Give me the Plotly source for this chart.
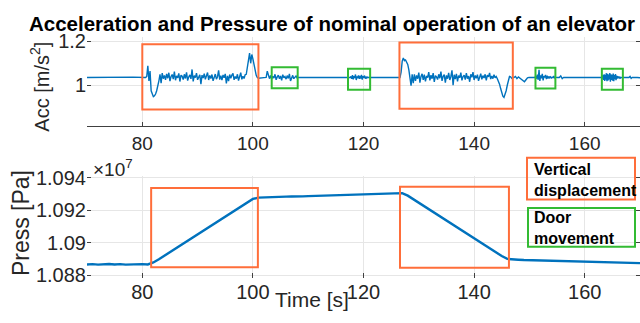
import numpy as np
import plotly.graph_objects as go

# ---------------- data ----------------
# Acceleration segments: (start time, end time, values)
acc_start = [1.035, 1.036, 1.034, 1.035, 1.037, 1.035]            # 70 .. 80.4
acc_vert1_a = [1.035, 1.040, 1.088, 1.020, 1.065, 0.975, 0.955, 0.948, 0.952, 0.960,
               0.975, 0.995, 1.020, 1.050, 1.010, 1.055, 1.030]   # 80.6 .. 83.8
acc_vert1_b = [1.045, 1.025, 1.052, 1.032, 1.057, 1.019, 1.040, 1.049, 1.028, 1.062,
               1.023, 1.043, 1.034, 1.054, 1.017, 1.046, 1.041, 1.026, 1.050, 1.031,
               1.059, 1.021, 1.038, 1.047, 1.029, 1.072, 1.018, 1.044, 1.035, 1.055,
               1.025, 1.042, 1.048, 1.005, 1.046, 1.033, 1.053, 1.027, 1.040, 1.058,
               1.024, 1.045, 1.031, 1.049, 1.020, 1.041, 1.051, 1.028, 1.039, 1.068,
               1.026, 1.044, 1.023, 1.047, 1.034, 1.052, 1.008, 1.043, 1.019, 1.049,
               1.032, 1.046, 1.054, 1.025, 1.040, 1.030, 1.050, 1.021, 1.045, 1.057,
               1.027, 1.041, 1.031, 1.048]                          # 84.0 .. 98.6
acc_vert1_c = [1.050, 1.080, 1.110, 1.146, 1.100, 1.140, 1.120, 1.090, 1.065, 1.045,
               1.035, 1.032]                                        # 98.8 .. 101.0
acc_door1 = [1.035, 1.034, 1.036, 1.064, 1.040, 1.030, 1.045, 1.028, 1.041, 1.033,
             1.050, 1.025, 1.038, 1.046, 1.030, 1.042, 1.022, 1.048, 1.034, 1.040,
             1.028, 1.044, 1.031, 1.052, 1.020, 1.039, 1.045, 1.030, 1.037, 1.042,
             1.033, 1.036]                                          # 102.0 .. 108.2
acc_door2 = [1.035, 1.040, 1.030, 1.046, 1.027, 1.042, 1.033, 1.049, 1.024, 1.040,
             1.036, 1.045, 1.029, 1.043, 1.031, 1.047, 1.026, 1.041, 1.034, 1.044,
             1.030, 1.039, 1.033, 1.037, 1.035, 1.035]             # 117.6 .. 121.0
acc_vert2_a = [1.035, 1.060, 1.110, 1.124, 1.112, 1.115, 1.105, 1.095, 1.070, 1.040,
               0.998, 1.050, 1.010]                                 # 126.6 .. 129.0
acc_vert2_b = [1.050, 1.020, 1.045, 1.030, 1.058, 1.012, 1.040, 1.052, 1.025, 1.048,
               1.018, 1.042, 1.035, 1.060, 1.022, 1.046, 1.030, 1.055, 1.015, 1.044,
               1.038, 1.026, 1.050, 1.032, 1.062, 1.020, 1.041, 1.048, 1.012, 1.045,
               1.030, 1.056, 1.024, 1.040, 1.068, 1.000, 1.048, 1.028, 1.052, 1.018,
               1.044, 1.034, 1.058, 1.022, 1.040, 1.046, 1.026, 1.055, 1.030, 1.042,
               1.016, 1.050, 1.036, 1.060, 1.024, 1.045, 1.032, 1.048, 1.020, 1.040,
               1.053, 1.027, 1.044, 1.033, 1.050, 1.022, 1.046, 1.038, 1.056, 1.028,
               1.042, 1.030, 1.048, 1.034, 1.040]                   # 129.2 .. 144.0
acc_vert2_c = [1.030, 1.020, 1.005, 0.985, 0.965, 0.950, 0.945, 0.958, 0.975, 1.000,
               1.025, 1.040, 1.038, 1.032, 1.036]                   # 144.2 .. 147.0
acc_post2 = [1.035, 1.040, 1.030, 1.038, 1.033, 1.028, 1.020, 1.016, 1.025, 1.034,
             1.036, 1.035]                                          # 147.2 .. 150.2
acc_door3 = [1.035, 1.042, 1.030, 1.048, 1.025, 1.070, 1.020, 1.045, 1.032, 1.052,
             1.022, 1.041, 1.036, 1.047, 1.028, 1.043, 1.031, 1.040, 1.034, 1.038,
             1.033, 1.036, 1.035, 1.042, 1.032, 1.037, 1.034, 1.035]   # 151.0 .. 155.0
acc_blip3 = [1.035, 1.042, 1.030, 1.036]                            # 155.4 .. 156.2
acc_door4 = [1.035, 1.040, 1.030, 1.046, 1.024, 1.050, 1.020, 1.048, 1.026, 1.055,
             1.018, 1.052, 1.022, 1.049, 1.027, 1.056, 1.016, 1.050, 1.024, 1.047,
             1.021, 1.053, 1.019, 1.046, 1.028, 1.051, 1.023, 1.044, 1.030, 1.041,
             1.032, 1.039, 1.034, 1.038, 1.033, 1.036, 1.035, 1.037, 1.034, 1.035]  # 163.0 .. 167.0
acc_blip4 = [1.035, 1.040, 1.031, 1.036]                            # 168.0 .. 168.6
acc_end = [1.035, 1.034]                                            # 169.5 .. 170

acc_segments = [
    (70.0, 80.4, acc_start), (80.6, 83.8, acc_vert1_a), (84.0, 98.6, acc_vert1_b),
    (98.8, 101.0, acc_vert1_c), (102.0, 108.2, acc_door1), (117.6, 121.0, acc_door2),
    (126.6, 129.0, acc_vert2_a), (129.2, 144.0, acc_vert2_b), (144.2, 147.0, acc_vert2_c),
    (147.2, 150.2, acc_post2), (151.0, 155.0, acc_door3), (155.4, 156.2, acc_blip3),
    (163.0, 167.0, acc_door4), (168.0, 168.6, acc_blip4), (169.5, 170.0, acc_end),
]

# Pressure (x 10^7 Pa), sampled each second from 70 s to 170 s
press_time = list(range(70, 171))
press = [1.08866, 1.08868, 1.08865, 1.08867, 1.08869, 1.08866, 1.08868, 1.08865, 1.08867, 1.08866,
         1.08868, 1.08866, 1.08878, 1.08898, 1.08920, 1.08942, 1.08964, 1.08986, 1.09008, 1.09030,
         1.09052, 1.09074, 1.09096, 1.09118, 1.09140, 1.09162, 1.09184, 1.09206, 1.09228, 1.09250,
         1.09270, 1.09278, 1.09280, 1.09282, 1.09281, 1.09283, 1.09284, 1.09285, 1.09284, 1.09286,
         1.09287, 1.09288, 1.09289, 1.09290, 1.09291, 1.09292, 1.09293, 1.09294, 1.09295, 1.09296,
         1.09297, 1.09298, 1.09299, 1.09301, 1.09302, 1.09303, 1.09305, 1.09306, 1.09290, 1.09268,
         1.09246, 1.09224, 1.09202, 1.09180, 1.09158, 1.09136, 1.09114, 1.09092, 1.09070, 1.09048,
         1.09026, 1.09004, 1.08982, 1.08960, 1.08940, 1.08918, 1.08900, 1.08896, 1.08895, 1.08893,
         1.08892, 1.08890, 1.08889, 1.08888, 1.08887, 1.08886, 1.08885, 1.08884, 1.08883, 1.08882,
         1.08881, 1.08880, 1.08879, 1.08878, 1.08877, 1.08877, 1.08876, 1.08875, 1.08875, 1.08874,
         1.08874]

# highlight boxes: (t0, t1, y0, y1)
acc_vert_boxes = [(80.0, 101.0, 0.890, 1.187), (126.5, 147.0, 0.893, 1.195)]
acc_door_boxes = [(103.4, 108.1, 0.986, 1.082), (117.2, 121.2, 0.980, 1.075),
                  (151.1, 154.7, 0.985, 1.080), (163.1, 166.9, 0.980, 1.075)]
press_vert_boxes = [(81.6, 100.9, 1.08848, 1.09337), (126.6, 146.3, 1.08846, 1.09345)]

x_ticks = [80, 100, 120, 140, 160]
acc_ticks = [1, 1.2]
press_ticks = [1.088, 1.09, 1.092, 1.094]
press_ticktext = ["1.088", "1.09", "1.092", "1.094"]

title_text = "Acceleration and Pressure of nominal operation of an elevator"

# ---------------- figure ----------------
W, H = 640, 323
BLUE = "#0072BD"
ORANGE = "#FF6E3A"
GREEN = "#33BB33"
TXT = "#262626"
FONT = "Liberation Sans, Arial, sans-serif"

t_acc, v_acc = [], []
for t0, t1, vals in acc_segments:
    t_acc.extend(np.linspace(t0, t1, len(vals)).tolist())
    v_acc.extend(vals)


def px(x):
    return x / W


def py(y):
    return 1 - y / H


fig = go.Figure()
fig.add_trace(go.Scatter(x=t_acc, y=v_acc, mode="lines", line=dict(color=BLUE, width=1.4),
                         xaxis="x", yaxis="y", showlegend=False))
fig.add_trace(go.Scatter(x=press_time, y=press, mode="lines", line=dict(color=BLUE, width=2.4),
                         xaxis="x2", yaxis="y2", showlegend=False))

shapes = []
for (t0, t1, y0, y1) in acc_vert_boxes:
    shapes.append(dict(type="rect", xref="x", yref="y", x0=t0, x1=t1, y0=y0, y1=y1,
                       line=dict(color=ORANGE, width=2)))
for (t0, t1, y0, y1) in acc_door_boxes:
    shapes.append(dict(type="rect", xref="x", yref="y", x0=t0, x1=t1, y0=y0, y1=y1,
                       line=dict(color=GREEN, width=2)))
for (t0, t1, y0, y1) in press_vert_boxes:
    shapes.append(dict(type="rect", xref="x2", yref="y2", x0=t0, x1=t1, y0=y0, y1=y1,
                       line=dict(color=ORANGE, width=2)))
# legend boxes
shapes.append(dict(type="rect", xref="paper", yref="paper", x0=px(527), x1=px(635),
                   y0=py(201), y1=py(157), line=dict(color=ORANGE, width=2)))
shapes.append(dict(type="rect", xref="paper", yref="paper", x0=px(528), x1=px(635),
                   y0=py(251), y1=py(210), line=dict(color=GREEN, width=2)))

annotations = [
    dict(text="<b>" + title_text + "</b>", x=px(332), y=py(15), xref="paper", yref="paper",
         showarrow=False, font=dict(size=20.5, color="black", family=FONT),
         xanchor="center", yanchor="middle"),
    dict(text="Acc [m/s<sup>2</sup>]", x=px(40), y=py(82), xref="paper", yref="paper",
         showarrow=False, textangle=-90, font=dict(size=20, color=TXT, family=FONT),
         xanchor="center", yanchor="middle"),
    dict(text="Press [Pa]", x=px(21), y=py(226), xref="paper", yref="paper",
         showarrow=False, textangle=-90, font=dict(size=23, color=TXT, family=FONT),
         xanchor="center", yanchor="middle"),
    dict(text="Time [s]", x=px(312), y=py(307), xref="paper", yref="paper",
         showarrow=False, font=dict(size=21, color=TXT, family=FONT),
         xanchor="center", yanchor="middle"),
    dict(text="×10<sup>7</sup>", x=px(91), y=py(168), xref="paper", yref="paper",
         showarrow=False, font=dict(size=19, color=TXT, family=FONT),
         xanchor="left", yanchor="middle"),
    dict(text="<b>Vertical<br>displacement</b>", x=px(532), y=py(180), xref="paper", yref="paper",
         showarrow=False, align="left", font=dict(size=16, color="black", family=FONT),
         xanchor="left", yanchor="middle"),
    dict(text="<b>Door<br>movement</b>", x=px(532), y=py(231), xref="paper", yref="paper",
         showarrow=False, align="left", font=dict(size=16, color="black", family=FONT),
         xanchor="left", yanchor="middle"),
]

grid = "#E6E6E6"
fig.update_layout(
    width=W, height=H, margin=dict(l=0, r=0, t=0, b=0),
    paper_bgcolor="white", plot_bgcolor="white",
    font=dict(family=FONT, color=TXT),
    xaxis=dict(domain=[px(87), 1.0], range=[70, 170], tickvals=x_ticks, anchor="y",
               showgrid=True, gridcolor=grid, zeroline=False, showline=True,
               linecolor="#404040", linewidth=1, ticks="inside", ticklen=4, tickcolor="#404040",
               tickfont=dict(size=19, color=TXT)),
    yaxis=dict(domain=[py(124), py(30)], range=[0.8125, 1.2177], tickvals=acc_ticks,
               ticktext=["1", "1.2"], anchor="x", showgrid=True, gridcolor=grid, zeroline=False,
               showline=False, ticks="inside", ticklen=4, tickcolor="#404040", mirror="ticks",
               tickfont=dict(size=20, color=TXT)),
    xaxis2=dict(domain=[px(87), 1.0], range=[70, 170], tickvals=x_ticks, anchor="y2",
                showgrid=True, gridcolor=grid, zeroline=False, showline=False,
                ticks="inside", ticklen=5, tickcolor="#404040",
                tickfont=dict(size=20, color=TXT)),
    yaxis2=dict(domain=[py(284), py(176)], range=[1.08782, 1.09413], tickvals=press_ticks,
                ticktext=press_ticktext, anchor="x2", showgrid=True, gridcolor=grid,
                zeroline=False, showline=False, ticks="inside", ticklen=4, tickcolor="#404040",
                mirror="ticks", tickfont=dict(size=20, color=TXT)),
    shapes=shapes, annotations=annotations,
)

fig.write_html("out.html")
